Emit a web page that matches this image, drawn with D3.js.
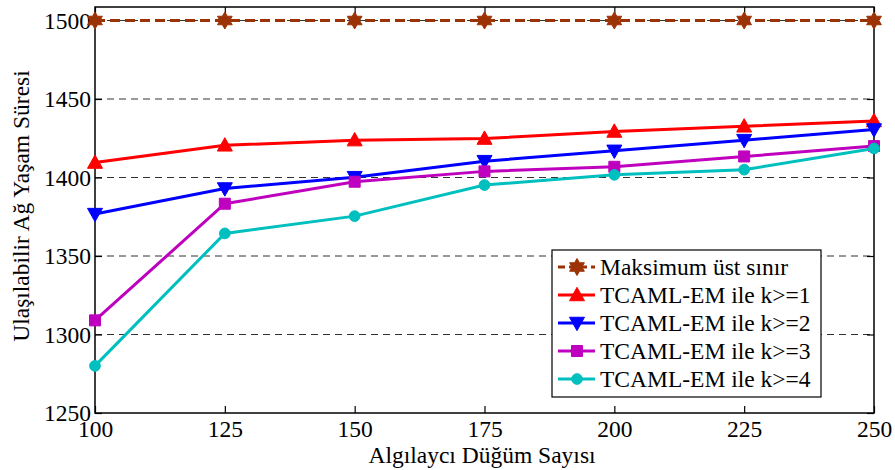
<!DOCTYPE html>
<html>
<head>
<meta charset="utf-8">
<script src="https://cdn.jsdelivr.net/npm/d3@7"></script>
<style>
  body { margin: 0; background: #fff; }
  svg text { font-family: "Liberation Serif", "Times New Roman", Times, serif !important; fill: #000; }
</style>
</head>
<body>
<div id="vis"></div>
<script>
// data
var nodes = [100, 125, 150, 175, 200, 225, 250];
var maxBound = [1500, 1500, 1500, 1500, 1500, 1500, 1500];
var k1 = [1409.5, 1420.5, 1423.8, 1424.8, 1429.3, 1432.6, 1436];
var k2 = [1376.7, 1393, 1400.2, 1410.4, 1417, 1423.8, 1430.6];
var k3 = [1309, 1383.3, 1397.3, 1403.9, 1406.8, 1413.4, 1420];
var k4 = [1280, 1364.4, 1375.4, 1395.2, 1401.7, 1405, 1418.5];
var yTicks = [1250, 1300, 1350, 1400, 1450, 1500];
var seriesNames = ["Maksimum üst sınır", "TCAML-EM ile k>=1", "TCAML-EM ile k>=2", "TCAML-EM ile k>=3", "TCAML-EM ile k>=4"];

var W = 895, H = 470;
var margin = { top: 7, right: 21, bottom: 57, left: 95 },
    width = W - margin.left - margin.right,
    height = H - margin.top - margin.bottom;
var fs = "23.5px";

var svg = d3.select("#vis").append("svg")
    .attr("width", W).attr("height", H)
    .append("g")
    .attr("transform", "translate(" + margin.left + "," + margin.top + ")");

var x = d3.scaleLinear().domain([100, 250]).range([0, width]);
var y = d3.scaleLinear().domain([1250, 1508.6]).range([height, 0]);

// hexagram like matlab 'h'
function hexagram(R) {
    var r = R / Math.sqrt(3), pts = [];
    for (var i = 0; i < 12; i++) {
        var a = -Math.PI / 2 + i * Math.PI / 6;
        var rr = i % 2 == 0 ? R : r;
        pts.push([rr * Math.cos(a), rr * Math.sin(a)]);
    }
    return "M" + pts.map(function (p) { return p.join(","); }).join("L") + "Z";
}
function triangle(s, down) {
    var h = s * 0.85, d = down ? -1 : 1;
    return "M0," + (-d * h * 0.6) + "L" + (s / 2) + "," + (d * h * 0.45) + "L" + (-s / 2) + "," + (d * h * 0.45) + "Z";
}

var series = [
    { name: seriesNames[0], values: maxBound, color: "#9c3306", dash: "10,5", marker: hexagram(8.5) },
    { name: seriesNames[1], values: k1, color: "#ff0000", dash: null, marker: triangle(15, false) },
    { name: seriesNames[2], values: k2, color: "#0000ff", dash: null, marker: triangle(15, true) },
    { name: seriesNames[3], values: k3, color: "#bf00bf", dash: null, marker: "M-5.5,-5.5H5.5V5.5H-5.5Z" },
    { name: seriesNames[4], values: k4, color: "#00bfbf", dash: null, marker: d3.symbol(d3.symbolCircle, 90)() }
];

var serif = "'Liberation Serif', 'Times New Roman', Times, serif";

// grid lines (horizontal only)
svg.append("g").selectAll("line.grid")
    .data(yTicks.slice(1))
    .enter().append("line")
    .attr("x1", 0).attr("x2", width)
    .attr("y1", function (d) { return y(d); })
    .attr("y2", function (d) { return y(d); })
    .attr("stroke", "#333")
    .attr("stroke-width", 1)
    .attr("stroke-dasharray", "7,5");

// axes, ticks pointing inward on all sides
var bottomAxis = svg.append("g")
    .attr("transform", "translate(0," + height + ")")
    .call(d3.axisBottom(x).tickValues(nodes).tickSize(-7).tickFormat(d3.format("d")));
bottomAxis.attr("font-family", serif);
bottomAxis.selectAll("text").attr("y", 24).attr("dy", 0).style("font-size", fs);

var leftAxis = svg.append("g")
    .call(d3.axisLeft(y).tickValues(yTicks).tickSize(-7).tickFormat(d3.format("d")));
leftAxis.attr("font-family", serif);
leftAxis.selectAll("text").attr("x", -4).attr("dy", "0.33em").style("font-size", fs);

svg.append("g")
    .call(d3.axisTop(x).tickValues(nodes).tickSize(-7).tickFormat(""));
svg.append("g")
    .attr("transform", "translate(" + width + ",0)")
    .call(d3.axisRight(y).tickValues(yTicks).tickSize(-7).tickFormat(""));

svg.selectAll(".domain").remove();
svg.selectAll(".tick line").attr("stroke", "#000").attr("stroke-width", 1.2);

svg.append("rect")
    .attr("width", width).attr("height", height)
    .attr("fill", "none").attr("stroke", "#000").attr("stroke-width", 1.5);

// lines and markers
var line = d3.line()
    .x(function (d, i) { return x(nodes[i]); })
    .y(function (d) { return y(d); });

series.forEach(function (s) {
    svg.append("path")
        .datum(s.values)
        .attr("d", line)
        .attr("fill", "none")
        .attr("stroke", s.color)
        .attr("stroke-width", 3)
        .attr("stroke-dasharray", s.dash);
    svg.selectAll(null)
        .data(s.values)
        .enter().append("path")
        .attr("d", s.marker)
        .attr("transform", function (d, i) { return "translate(" + x(nodes[i]) + "," + y(d) + ")"; })
        .attr("fill", s.color)
        .attr("stroke", s.color)
        .attr("stroke-width", 1);
});

// axis labels
svg.append("text")
    .attr("x", 482 - margin.left)
    .attr("y", height + 50)
    .attr("text-anchor", "middle")
    .style("font-size", fs)
    .text("Algılaycı Düğüm Sayısı");

svg.append("text")
    .attr("transform", "translate(" + (29 - margin.left) + "," + (206 - margin.top) + ") rotate(-90)")
    .attr("text-anchor", "middle")
    .style("font-size", fs)
    .text("Ulaşılabilir Ağ Yaşam Süresi");

// legend
var legend = svg.append("g")
    .attr("transform", "translate(" + (552 - margin.left) + "," + (250 - margin.top) + ")");
legend.append("rect")
    .attr("width", 269).attr("height", 147)
    .attr("fill", "#fff").attr("stroke", "#000").attr("stroke-width", 1.2);

var rows = legend.selectAll("g.row")
    .data(series)
    .enter().append("g")
    .attr("transform", function (d, i) { return "translate(0," + (17 + i * 28) + ")"; });
rows.append("line")
    .attr("x1", 6).attr("x2", 43)
    .attr("stroke", function (d) { return d.color; })
    .attr("stroke-width", 3)
    .attr("stroke-dasharray", function (d) { return d.dash ? "7,4" : null; });
rows.append("path")
    .attr("d", function (d) { return d.marker; })
    .attr("transform", "translate(25,0)")
    .attr("fill", function (d) { return d.color; })
    .attr("stroke", function (d) { return d.color; });
rows.append("text")
    .attr("x", 48)
    .attr("dy", "0.33em")
    .style("font-size", fs)
    .text(function (d) { return d.name; });
</script>
</body>
</html>
